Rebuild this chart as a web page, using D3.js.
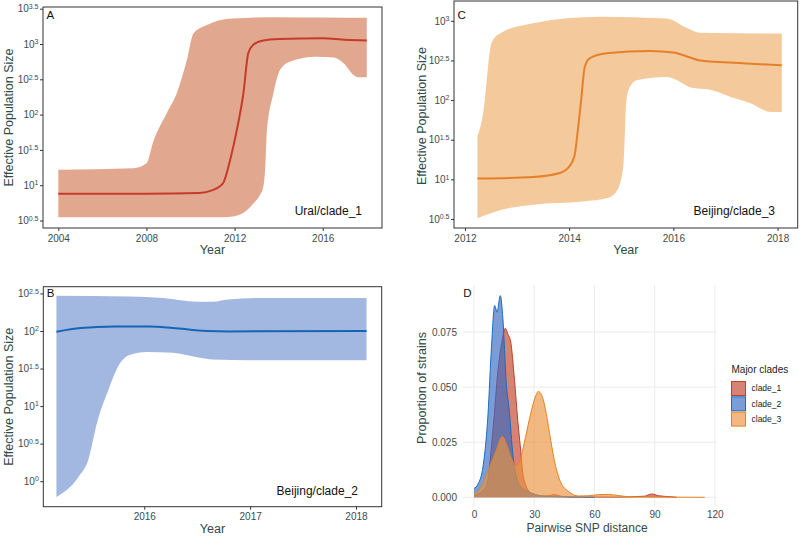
<!DOCTYPE html>
<html>
<head>
<meta charset="utf-8">
<script src="https://cdn.jsdelivr.net/npm/d3@7"></script>
<style>
  html, body { margin: 0; padding: 0; background: #fff; }
  svg { display: block; font-family: "Liberation Sans", Arial, Helvetica, sans-serif; }
</style>
</head>
<body>
<svg id="chart" width="800" height="536"></svg>
<script>
// ---------------- DATA (log10 of effective population size) ----------------
// Panel A: Ural/clade_1
const yearsA_med = [2004.0, 2008, 2010.4, 2011.0, 2011.35, 2011.5, 2011.8, 2012.1, 2012.4, 2012.62, 2012.85, 2013.3, 2014, 2016, 2017, 2018.0];
const logA_med   = [0.88, 0.88, 0.89, 0.93, 0.99, 1.04, 1.36, 1.78, 2.30, 2.87, 2.99, 3.05, 3.07, 3.08, 3.06, 3.05];
const yearsA_up  = [2004.0, 2007.4, 2008.0, 2008.31, 2008.92, 2009.37, 2009.83, 2010.13, 2010.74, 2011.9, 2014, 2016, 2018.0];
const logA_up    = [1.22, 1.24, 1.31, 1.62, 2.02, 2.30, 2.77, 3.15, 3.27, 3.36, 3.38, 3.375, 3.37];
const yearsA_lo  = [2004.0, 2011.5, 2012.0, 2012.5, 2012.85, 2013.15, 2013.3, 2013.4, 2013.46, 2013.76, 2014.06, 2014.5, 2015.7, 2016.48, 2016.94, 2017.4, 2017.6, 2018.0];
const logA_lo    = [0.545, 0.545, 0.56, 0.63, 0.74, 0.86, 0.97, 1.3, 1.74, 2.30, 2.63, 2.75, 2.82, 2.81, 2.73, 2.56, 2.53, 2.53];

// Panel B: Beijing/clade_2
const yearsB_med = [2015.17, 2015.40, 2015.72, 2016.05, 2016.27, 2016.59, 2016.8, 2018.1];
const logB_med   = [1.99, 2.04, 2.06, 2.06, 2.04, 2.0, 1.995, 2.0];
const yearsB_up  = [2015.17, 2015.86, 2016.18, 2016.5, 2016.65, 2016.79, 2017.13, 2018.1];
const logB_up    = [2.47, 2.46, 2.44, 2.39, 2.39, 2.42, 2.44, 2.44];
const yearsB_lo  = [2015.17, 2015.38, 2015.47, 2015.56, 2015.66, 2015.75, 2015.86, 2016.02, 2016.27, 2016.5, 2016.65, 2017.0, 2018.1];
const logB_lo    = [-0.21, 0.06, 0.28, 0.81, 1.21, 1.52, 1.68, 1.72, 1.71, 1.65, 1.62, 1.61, 1.61];

// Panel C: Beijing/clade_3
const yearsC_med = [2012.24, 2013.31, 2013.82, 2014.0, 2014.1, 2014.18, 2014.23, 2014.3, 2014.4, 2014.72, 2015.55, 2016.0, 2016.26, 2016.51, 2017.15, 2018.08];
const logC_med   = [1.01, 1.03, 1.08, 1.16, 1.29, 1.7, 2.0, 2.42, 2.53, 2.59, 2.62, 2.60, 2.55, 2.50, 2.47, 2.44];
const yearsC_up  = [2012.24, 2012.35, 2012.51, 2012.67, 2013.31, 2014.59, 2015.87, 2016.26, 2016.51, 2018.08];
const logC_up    = [1.54, 1.83, 2.72, 2.84, 2.97, 3.05, 3.03, 2.91, 2.85, 2.84];
const yearsC_lo  = [2012.24, 2012.67, 2013.31, 2014.27, 2014.72, 2014.91, 2015.04, 2015.1, 2015.17, 2015.3, 2015.87, 2016.07, 2016.33, 2016.71, 2017.1, 2017.48, 2017.87, 2018.08];
const logC_lo    = [0.51, 0.61, 0.68, 0.72, 0.76, 0.85, 1.16, 2.0, 2.17, 2.25, 2.29, 2.25, 2.16, 2.13, 2.04, 1.96, 1.85, 1.85];

// Tick labels
const yearTicksA = [2004, 2008, 2012, 2016];
const yearTicksB = [2016, 2017, 2018];
const yearTicksC = [2012, 2014, 2016, 2018];
const expTicksA = [0.5, 1, 1.5, 2, 2.5, 3, 3.5];
const expTicksB = [0, 0.5, 1, 1.5, 2, 2.5];
const expTicksC = [0.5, 1, 1.5, 2, 2.5, 3];

// Panel D: pairwise SNP distance densities
const cladeNames = ["clade_1", "clade_2", "clade_3"];
const distC1 = [0, 3, 6.2, 9.5, 12, 14.1, 15.6, 16.9, 18.2, 20.2, 21.8, 23.4, 24.3, 26, 28.4, 32, 36, 40, 44, 50, 70, 85, 88.5, 92, 100, 101];
const densC1 = [0.0005, 0.002, 0.005, 0.031, 0.058, 0.0715, 0.0767, 0.074, 0.071, 0.053, 0.035, 0.020, 0.011, 0.005, 0.002, 0.0008, 0.0006, 0.0012, 0.0004, 0.0002, 0.0001, 0.0005, 0.0015, 0.0007, 0.0001, 0];
const distC2 = [0, 2, 4.5, 7, 8.7, 10.3, 11.5, 13.1, 14.4, 16, 17.7, 19.3, 21, 23, 26, 30, 35, 45, 60];
const densC2 = [0.004, 0.006, 0.014, 0.038, 0.068, 0.087, 0.084, 0.0915, 0.081, 0.053, 0.038, 0.020, 0.0095, 0.005, 0.003, 0.0015, 0.0005, 0.0002, 0];
const distC3 = [0, 3, 7.9, 11, 14.1, 16, 18.5, 21, 22.6, 25, 27.5, 30, 32.1, 34, 36, 38.2, 40.7, 43.1, 47.2, 52, 57, 62, 67, 72, 78, 90, 115];
const densC3 = [0.001, 0.004, 0.014, 0.021, 0.0276, 0.0245, 0.018, 0.0147, 0.016, 0.0245, 0.035, 0.044, 0.048, 0.0458, 0.038, 0.026, 0.014, 0.007, 0.0026, 0.0006, 0.0007, 0.0012, 0.0013, 0.0008, 0.0002, 0.0001, 0];
const distTicks = [0, 30, 60, 90, 120];
const propTicks = [0, 0.025, 0.05, 0.075];

// ---------------- DRAWING ----------------
const svg = d3.select("#chart");
const tickCol = "#3b4d4d";
const titleCol = "#2f4a4a";
const zip = (xs, ys) => xs.map((x, i) => [x, ys[i]]);

function bandPanel(cfg) {
  const g = svg.append("g");
  const x = d3.scaleLinear().domain(cfg.xDomain).range([cfg.left, cfg.right]);
  const y = d3.scaleLinear().domain(cfg.yDomain).range([cfg.bottom, cfg.top]);
  const line = d3.line().x(d => x(d[0])).y(d => y(d[1])).curve(d3.curveMonotoneX);

  const up = zip(cfg.upX, cfg.upY);
  const lo = zip(cfg.loX, cfg.loY).reverse();
  const dUp = line(up);
  const dLo = line(lo).replace(/^M/, "L");
  g.append("path").attr("d", dUp + dLo + "Z").attr("fill", cfg.fill).attr("stroke", "none");

  g.append("path").attr("d", line(zip(cfg.medX, cfg.medY)))
    .attr("fill", "none").attr("stroke", cfg.lineCol).attr("stroke-width", 2);

  // frame
  g.append("rect").attr("x", cfg.left).attr("y", cfg.top)
    .attr("width", cfg.right - cfg.left).attr("height", cfg.bottom - cfg.top)
    .attr("fill", "none").attr("stroke", "#333").attr("stroke-width", 1);

  // x axis
  const xa = g.append("g").attr("transform", `translate(0,${cfg.bottom})`)
    .call(d3.axisBottom(x).tickValues(cfg.xTicks).tickFormat(d3.format("d")).tickSize(3).tickPadding(3.5));
  xa.select(".domain").remove();
  xa.selectAll("line").attr("stroke", "#333");
  xa.selectAll("text").attr("fill", tickCol).attr("font-size", 10).attr("font-family", null);

  // y axis with superscript labels
  const ya = g.append("g").attr("transform", `translate(${cfg.left},0)`)
    .call(d3.axisLeft(y).tickValues(cfg.yTicks).tickFormat("").tickSize(3).tickPadding(1.5));
  ya.select(".domain").remove();
  ya.selectAll("line").attr("stroke", "#333");
  ya.selectAll("text").attr("fill", tickCol).attr("font-size", 10).attr("font-family", null)
    .each(function(d) {
      const t = d3.select(this);
      t.text(null);
      t.append("tspan").text("10");
      t.append("tspan").attr("dy", "-0.5em").attr("font-size", 7).text(String(d));
    });

  // titles
  g.append("text").attr("x", (cfg.left + cfg.right) / 2).attr("y", cfg.bottom + 26)
    .attr("text-anchor", "middle").attr("font-size", 12.5).attr("fill", titleCol).text("Year");
  g.append("text").attr("transform", `translate(${cfg.yTitleX},${cfg.yTitleY}) rotate(-90)`)
    .attr("text-anchor", "middle").attr("font-size", 12.5).attr("fill", titleCol).text("Effective Population Size");
  g.append("text").attr("x", cfg.left + 3.5).attr("y", cfg.top + cfg.letterDy)
    .attr("font-size", 11.5).attr("fill", "#111").text(cfg.letter);
  g.append("text").attr("x", cfg.annoX).attr("y", cfg.annoY).attr("text-anchor", "end")
    .attr("font-size", 12).attr("fill", "#111").text(cfg.anno);
}

bandPanel({
  left: 43, right: 382, top: 7, bottom: 228,
  xDomain: [2003.305, 2018.69], yDomain: [0.394, 3.524],
  upX: yearsA_up, upY: logA_up, loX: yearsA_lo, loY: logA_lo, medX: yearsA_med, medY: logA_med,
  fill: "#e2a88f", lineCol: "#c63a28",
  xTicks: yearTicksA, yTicks: expTicksA,
  yTitleX: 12.5, yTitleY: 117.5, letter: "A", letterDy: 12, anno: "Ural/clade_1", annoX: 362, annoY: 215
});

bandPanel({
  left: 454, right: 797.7, top: 1, bottom: 228,
  xDomain: [2011.79, 2018.386], yDomain: [0.386, 3.25],
  upX: yearsC_up, upY: logC_up, loX: yearsC_lo, loY: logC_lo, medX: yearsC_med, medY: logC_med,
  fill: "#f4c99c", lineCol: "#e5812a",
  xTicks: yearTicksC, yTicks: expTicksC,
  yTitleX: 426, yTitleY: 116, letter: "C", letterDy: 18.3, anno: "Beijing/clade_3", annoX: 775, annoY: 215
});

bandPanel({
  left: 43.3, right: 381.7, top: 286.7, bottom: 506.7,
  xDomain: [2015.046, 2018.243], yDomain: [-0.34, 2.59],
  upX: yearsB_up, upY: logB_up, loX: yearsB_lo, loY: logB_lo, medX: yearsB_med, medY: logB_med,
  fill: "#a2b8e0", lineCol: "#1565b6",
  xTicks: yearTicksB, yTicks: expTicksB,
  yTitleX: 12.5, yTitleY: 396.7, letter: "B", letterDy: 10, anno: "Beijing/clade_2", annoX: 358, annoY: 495
});

// ---------------- Panel D ----------------
(function() {
  const g = svg.append("g");
  const x = d3.scaleLinear().domain([0, 120]).range([474, 714.8]);
  const y = d3.scaleLinear().domain([0, 0.075]).range([497.3, 332]);
  const px0 = 463, px1 = 717, py0 = 285, py1 = 506;

  // grid
  g.selectAll(".vg").data(distTicks).join("line")
    .attr("x1", d => x(d)).attr("x2", d => x(d)).attr("y1", py0).attr("y2", py1)
    .attr("stroke", "#ebebeb").attr("stroke-width", 1);
  g.selectAll(".hg").data(propTicks).join("line")
    .attr("x1", px0).attr("x2", px1).attr("y1", d => y(d)).attr("y2", d => y(d))
    .attr("stroke", "#ebebeb").attr("stroke-width", 1);

  const series = [
    { name: cladeNames[0], xs: distC1, ys: densC1, col: "#c0402a", fill: "rgba(192,64,42,0.65)" },
    { name: cladeNames[1], xs: distC2, ys: densC2, col: "#1a6cc0", fill: "rgba(50,105,195,0.65)" },
    { name: cladeNames[2], xs: distC3, ys: densC3, col: "#e8821e", fill: "rgba(234,148,62,0.65)" }
  ];
  const area = d3.area().x(d => x(d[0])).y0(y(0)).y1(d => y(d[1])).curve(d3.curveMonotoneX);
  const line = d3.line().x(d => x(d[0])).y(d => y(d[1])).curve(d3.curveMonotoneX);
  series.forEach(s => {
    const pts = zip(s.xs, s.ys);
    g.append("path").attr("d", area(pts)).attr("fill", s.fill);
    g.append("path").attr("d", line(pts)).attr("fill", "none").attr("stroke", s.col).attr("stroke-width", 1);
  });

  const xa = g.append("g").attr("transform", `translate(0,${py1})`)
    .call(d3.axisBottom(x).tickValues(distTicks).tickFormat(d3.format("d")).tickSize(0).tickPadding(5));
  xa.select(".domain").remove();
  xa.selectAll("text").attr("fill", tickCol).attr("font-size", 10).attr("font-family", null);

  const ya = g.append("g").attr("transform", `translate(${px0},0)`)
    .call(d3.axisLeft(y).tickValues(propTicks).tickFormat(d3.format(".3f")).tickSize(0).tickPadding(6));
  ya.select(".domain").remove();
  ya.selectAll("text").attr("fill", tickCol).attr("font-size", 10).attr("font-family", null);

  g.append("text").attr("x", 587).attr("y", 531.5).attr("text-anchor", "middle")
    .attr("font-size", 12).attr("fill", titleCol).text("Pairwise SNP distance");
  g.append("text").attr("transform", "translate(426,388) rotate(-90)").attr("text-anchor", "middle")
    .attr("font-size", 12.5).attr("fill", titleCol).text("Proportion of strains");
  g.append("text").attr("x", 463.3).attr("y", 297.3).attr("font-size", 11.5).attr("fill", "#111").text("D");

  // legend
  const lg = g.append("g");
  lg.append("text").attr("x", 731.5).attr("y", 373.3).attr("font-size", 10).attr("fill", "#222").text("Major clades");
  series.forEach((s, i) => {
    const yy = 381.5 + i * 15.3;
    lg.append("rect").attr("x", 731.5).attr("y", yy).attr("width", 14).attr("height", 14)
      .attr("fill", s.fill).attr("stroke", s.col).attr("stroke-width", 1);
    lg.append("text").attr("x", 751.5).attr("y", yy + 7).attr("dy", "0.35em")
      .attr("font-size", 8.5).attr("fill", "#222").text(s.name);
  });
})();
</script>
</body>
</html>
